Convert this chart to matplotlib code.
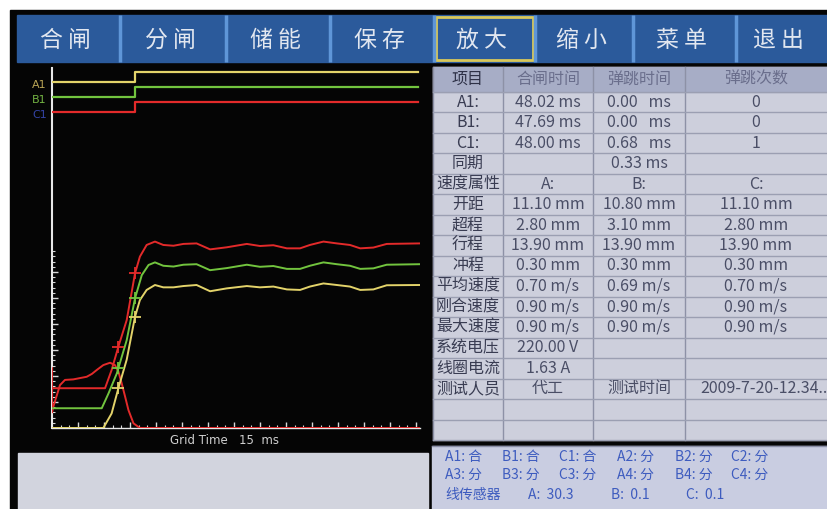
import numpy as np
import matplotlib.pyplot as plt
from matplotlib.patches import Rectangle

plt.rcParams['font.family'] = ['Noto Sans CJK SC', 'DejaVu Sans']

# 工具栏按钮
buttons = ['合闸', '分闸', '储能', '保存', '放大', '缩小', '菜单', '退出']
active_button = '放大'

# 通道与合闸时间 (ms)
channels = ['A1', 'B1', 'C1']
close_ms = [48.02, 47.69, 48.00]
bounce_ms = [0.00, 0.00, 0.68]
bounce_n = [0, 0, 1]
sync_ms = 0.33
phases = ['A', 'B', 'C']
open_mm = [11.10, 10.80, 11.10]
over_mm = [2.80, 3.10, 2.80]
stroke_mm = [13.90, 13.90, 13.90]
rebound_mm = [0.30, 0.30, 0.30]
avg_v = [0.70, 0.69, 0.70]
close_v = [0.90, 0.90, 0.90]
max_v = [0.90, 0.90, 0.90]
voltage_v = 220.00
coil_a = 1.63
tester = '代工'
test_time = '2009-7-20-12.34..'
header = ['项目', '合闸时间', '弹跳时间', '弹跳次数']

# 行程曲线 (时间 ms, 幅值 格)
grid_ms = 15
red_t = [0, 30.6, 34.4, 38.3, 43.1, 47.9, 50.7, 54.6, 59.4, 64.2, 70.1, 75.8, 83.4, 91.2,
         100.8, 112.4, 120.0, 127.7, 135.5, 143.1, 148.8, 156.6, 164.3, 171.9, 177.8, 185.4, 193.1, 212.3]
red_y = [1.53, 1.53, 2.23, 3.13, 4.15, 5.95, 6.59, 7.04, 7.17, 7.04, 7.01, 7.08, 7.10, 6.87,
         6.95, 7.08, 7.00, 7.03, 6.91, 6.91, 7.04, 7.17, 7.10, 7.04, 6.91, 6.94, 7.08, 7.10]
green_t = [0, 28.7, 32.6, 37.4, 43.1, 47.9, 51.8, 55.7, 59.4, 64.2, 70.1, 75.8, 83.4, 91.2,
           100.8, 112.4, 120.0, 127.7, 135.5, 143.1, 148.8, 156.6, 164.3, 171.9, 177.8, 185.4, 193.1, 212.3]
green_y = [0.76, 0.76, 1.33, 2.10, 3.38, 4.99, 5.88, 6.27, 6.37, 6.24, 6.21, 6.28, 6.30, 6.07,
           6.15, 6.28, 6.20, 6.23, 6.12, 6.12, 6.24, 6.37, 6.30, 6.24, 6.12, 6.14, 6.28, 6.30]
yellow_t = [0, 29.6, 34.4, 38.3, 43.1, 47.9, 50.7, 54.6, 59.4, 64.2, 70.1, 75.8, 83.4, 91.2,
            100.8, 112.4, 120.0, 127.7, 135.5, 143.1, 148.8, 156.6, 164.3, 171.9, 177.8, 185.4, 193.1, 212.3]
yellow_y = [0, 0, 0.56, 1.53, 2.63, 4.28, 4.92, 5.31, 5.50, 5.41, 5.41, 5.46, 5.50, 5.26,
            5.37, 5.46, 5.41, 5.44, 5.33, 5.31, 5.44, 5.56, 5.50, 5.44, 5.31, 5.33, 5.49, 5.50]
# 线圈电流
coil_t = [0, 0, 0.75, 4.6, 7.5, 12.3, 20.0, 23.0, 25.8, 29.6, 33.5, 36.3, 38.3, 40.2, 42.2, 44.1, 47.0, 50.7, 212.3]
coil_y = [2.3, 0.6, 0.82, 1.65, 1.85, 1.87, 1.97, 2.08, 2.23, 2.42, 2.51, 2.42, 2.17, 1.72, 1.20, 0.69, 0.18, 0, 0]
mark_t = [38.3, 47.9]

# 状态栏
status_1 = [('A1', '合'), ('B1', '合'), ('C1', '合'), ('A2', '分'), ('B2', '分'), ('C2', '分')]
status_2 = [('A3', '分'), ('B3', '分'), ('C3', '分'), ('A4', '分'), ('B4', '分'), ('C4', '分')]
sensor = [('A', 30.3), ('B', 0.1), ('C', 0.1)]

RED, GREEN, YELLOW = '#e32a2a', '#72c43e', '#e3d36a'
W, H = 827, 509

fig = plt.figure(figsize=(W / 100, H / 100), dpi=100, facecolor='white')
bg = fig.add_axes([0, 0, 1, 1])
bg.set_xlim(0, W)
bg.set_ylim(H, 0)
bg.axis('off')

# 屏幕黑底
bg.add_patch(Rectangle((10, 10), W - 10, H - 10, color='#050505'))

# 工具栏
bg.add_patch(Rectangle((17, 15), W - 17, 47, color='#2b5a9b'))
btn_edges = [17, 120, 226, 330, 434, 535, 633, 736, W]
for i, name in enumerate(buttons):
    x0, x1 = btn_edges[i], btn_edges[i + 1]
    if i > 0:
        bg.plot([x0, x0], [15, 62], color='#5f96d8', lw=2.5, solid_capstyle='butt')
    if name == active_button:
        bg.add_patch(Rectangle((x0 + 2, 17), x1 - x0 - 4, 43, fill=False, ec='#d9c95a', lw=2))
    bg.text((x0 + x1) / 2 - 3, 40, name[0] + ' ' + name[1], color='#e2e7f0', fontsize=16.5,
            ha='center', va='center')

# 左下空白框
bg.add_patch(Rectangle((18, 453), 410, 56, color='#d2d4de'))

# 通道标签
label_colors = ['#b9a455', '#74b443', '#3444a6']
for i, ch in enumerate(channels):
    bg.text(32, 85 + 15 * i, ch, color=label_colors[i], fontsize=8, va='center', ha='left',
            family='DejaVu Sans')

bg.text(224, 440, 'Grid Time   15  ms', color='#cfcfcf', fontsize=8.5, ha='center', va='center',
        family='DejaVu Sans')

# 数据表
col_x = [433, 503, 593, 685, W]
tab_top, head_h, row_h = 67, 25, 20.47
rows = [
    ['A1:', f'{close_ms[0]:.2f} ms', f'{bounce_ms[0]:.2f}   ms', f'{bounce_n[0]}'],
    ['B1:', f'{close_ms[1]:.2f} ms', f'{bounce_ms[1]:.2f}   ms', f'{bounce_n[1]}'],
    ['C1:', f'{close_ms[2]:.2f} ms', f'{bounce_ms[2]:.2f}   ms', f'{bounce_n[2]}'],
    ['同期', '', f'{sync_ms:.2f} ms', ''],
    ['速度属性'] + [p + ':' for p in phases],
    ['开距'] + [f'{v:.2f} mm' for v in open_mm],
    ['超程'] + [f'{v:.2f} mm' for v in over_mm],
    ['行程'] + [f'{v:.2f} mm' for v in stroke_mm],
    ['冲程'] + [f'{v:.2f} mm' for v in rebound_mm],
    ['平均速度'] + [f'{v:.2f} m/s' for v in avg_v],
    ['刚合速度'] + [f'{v:.2f} m/s' for v in close_v],
    ['最大速度'] + [f'{v:.2f} m/s' for v in max_v],
    ['系统电压', f'{voltage_v:.2f} V', '', ''],
    ['线圈电流', f'{coil_a:.2f} A', '', ''],
    ['测试人员', tester, '测试时间', test_time],
    ['', '', '', ''],
    ['', '', '', ''],
]
tab_bot = tab_top + head_h + row_h * len(rows)
bg.add_patch(Rectangle((col_x[0], tab_top), W - col_x[0], tab_bot - tab_top, color='#cdcfdc'))
bg.add_patch(Rectangle((col_x[0], tab_top), W - col_x[0], head_h, color='#a7adc6'))
for x in col_x[1:-1]:
    bg.plot([x, x], [tab_top, tab_bot], color='#8d91a6', lw=1)
bg.plot([col_x[0], col_x[0]], [tab_top, tab_bot], color='#8d91a6', lw=1)
for j in range(len(rows) + 1):
    y = tab_top + head_h + row_h * j
    bg.plot([col_x[0], W], [y, y], color='#9b9fb2', lw=1)
for k, h in enumerate(header):
    bg.text((col_x[k] + col_x[k + 1]) / 2, tab_top + head_h / 2, h, fontsize=11.5,
            color='#2e3147' if k == 0 else '#6a6e8c', ha='center', va='center')
for j, row in enumerate(rows):
    yc = tab_top + head_h + row_h * (j + 0.5)
    for k, s in enumerate(row):
        if s:
            bg.text((col_x[k] + col_x[k + 1]) / 2 + (8 if k == 3 and len(s) > 12 else 0), yc, s,
                    fontsize=11.5, color='#393c52' if k == 0 else '#4a4e66', ha='center', va='center')

# 状态栏
bg.add_patch(Rectangle((432, 446), W - 432, H - 446, color='#c9cde1'))
bg.plot([432, W], [446, 446], color='#8a8ea6', lw=1)
status_x = [445, 502, 559, 617, 675, 731]
blue = '#3e5cbf'
for line, yc in [(status_1, 457), (status_2, 475)]:
    for (nm, st), x in zip(line, status_x):
        bg.text(x, yc, f'{nm}: {st}', color=blue, fontsize=10, ha='left', va='center')
bg.text(445, 495, '线传感器', color=blue, fontsize=10, ha='left', va='center')
for (nm, v), x in zip(sensor, [528, 611, 686]):
    bg.text(x, 495, f'{nm}:  {v}', color=blue, fontsize=10, ha='left', va='center')

# 行程曲线坐标系
x0p, x1p, y0p, y1p = 52, 420, 428, 68
ax = fig.add_axes([x0p / W, 1 - y0p / H, (x1p - x0p) / W, (y0p - y1p) / H])
ax.set_facecolor('none')
ax.set_xlim(0, 212.3)
ax.set_ylim(0, (y0p - y1p) / 26)
for s in ['top', 'right']:
    ax.spines[s].set_visible(False)
ax.spines['left'].set_color('#e8e8e8')
ax.spines['left'].set_linewidth(1.5)
ax.spines['bottom'].set_color('#e8e8e8')
ax.spines['bottom'].set_linewidth(1)
ax.set_xticks(np.arange(grid_ms, 212, grid_ms))
ax.set_xticks(np.arange(0, 212, 5), minor=True)
ax.set_yticks(np.arange(1, 7))
ax.set_yticks(np.arange(0.2, 6.9, 0.2), minor=True)
ax.tick_params(which='both', direction='in', colors='#d8d8d8', labelleft=False, labelbottom=False)
ax.tick_params(which='major', length=4, width=1)
ax.tick_params(which='minor', length=2, width=0.8)

ax.plot(coil_t, coil_y, color=RED, lw=1.4, zorder=3)
ax.plot(yellow_t, yellow_y, color=YELLOW, lw=1.4, zorder=4)
ax.plot(green_t, green_y, color=GREEN, lw=1.4, zorder=4)
ax.plot(red_t, red_y, color=RED, lw=1.4, zorder=5)
for t_arr, y_arr, c in [(red_t, red_y, RED), (green_t, green_y, GREEN), (yellow_t, yellow_y, YELLOW)]:
    ax.plot(mark_t, np.interp(mark_t, t_arr, y_arr), '+', color=c, ms=8, mew=1.3, zorder=6)

# 分合闸信号
sx = fig.add_axes([x0p / W, 1 - 120 / H, (x1p - x0p) / W, 55 / H])
sx.set_facecolor('none')
sx.axis('off')
sx.set_xlim(0, 212.3)
sx.set_ylim(0, 55)
for i, (ch, t_c, c) in enumerate(zip(channels, close_ms, [YELLOW, GREEN, RED])):
    base = 38 - 15 * i
    sx.step([0, t_c, 211], [base, base + 10, base + 10], where='post', color=c, lw=1.6)

fig.savefig('out.png', dpi=100, facecolor='white')
